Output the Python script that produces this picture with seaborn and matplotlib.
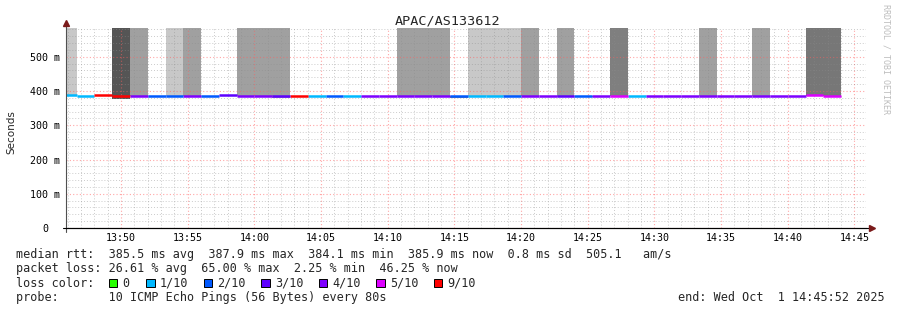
import numpy as np
import pandas as pd
import matplotlib
matplotlib.use("Agg")
import matplotlib.pyplot as plt
import seaborn as sns
from matplotlib.patches import Rectangle
from matplotlib.ticker import MultipleLocator, FixedLocator, FixedFormatter

# ---------------- data ----------------
title = "APAC/AS133612"
window_start = "13:45:52"
window_end = "14:45:52"
first_step_end = "13:46:40"
step_seconds = 80

# loss per probe round (tenths of 10 pings lost)
loss = [1, 1, 9, 9, 4, 2, 2, 4, 2, 3, 4, 4, 3, 9, 1, 2, 1, 4, 4, 4, 4, 4,
        2, 1, 1, 2, 4, 4, 3, 2, 4, 5, 1, 4, 4, 4, 4, 4, 4, 4, 4, 4, 5, 5]
# median rtt per round (ms)
median_ms = [387, 386, 389.5, 386.5, 386, 386, 386, 386, 386, 388, 386, 386,
             384, 386.5, 386, 386, 386, 386, 386, 386, 386, 386, 385, 386,
             386, 386, 386, 386, 384, 386, 385, 386, 386, 386, 386, 386, 386,
             386, 386, 386, 386, 386, 388.5, 386.5]
# smoke (spread of individual pings) per round: low / high rtt (ms) and shade
smoke_lo = [385, np.nan, np.nan, 376, 385, np.nan, 385, 385, np.nan, np.nan, 385, 385,
            381, np.nan, np.nan, np.nan, np.nan, np.nan, np.nan, 385, 385, 385, 381, 385,
            385, 385, 385, np.nan, 382, np.nan, 382, 385, np.nan, np.nan, np.nan, np.nan, 385,
            np.nan, np.nan, 385, np.nan, np.nan, 385, 385]
smoke_hi = [600, np.nan, np.nan, 600, 600, np.nan, 600, 600, np.nan, np.nan, 600, 600,
            600, np.nan, np.nan, np.nan, np.nan, np.nan, np.nan, 600, 600, 600, 385, 600,
            600, 600, 600, np.nan, 600, np.nan, 385, 600, np.nan, np.nan, np.nan, np.nan, 600,
            np.nan, np.nan, 600, np.nan, np.nan, 600, 600]
smoke_shade = ["#c8c8c8", "", "", "#555555", "#a0a0a0", "", "#c8c8c8", "#a0a0a0", "", "",
               "#a0a0a0", "#a0a0a0", "#a0a0a0", "", "", "", "", "", "", "#a0a0a0", "#a0a0a0",
               "#a0a0a0", "#8a8a8a", "#c8c8c8", "#c8c8c8", "#c8c8c8", "#a0a0a0", "", "#a0a0a0",
               "", "#8a8a8a", "#7f7f7f", "", "", "", "", "#a0a0a0", "", "", "#a0a0a0", "", "",
               "#777777", "#777777"]

loss_labels = ["0", "1/10", "2/10", "3/10", "4/10", "5/10", "9/10"]
loss_values = [0, 1, 2, 3, 4, 5, 9]
loss_colors = ["#26ff00", "#00b8ff", "#0059ff", "#5e00ff", "#7e00ff", "#dd00ff", "#ff0000"]

y_ticks = [0, 100, 200, 300, 400, 500]
y_tick_labels = ["0", "100 m", "200 m", "300 m", "400 m", "500 m"]
x_tick_labels = ["13:50", "13:55", "14:00", "14:05", "14:10", "14:15",
                 "14:20", "14:25", "14:30", "14:35", "14:40", "14:45"]

stats_lines = [
    "median rtt:  385.5 ms avg  387.9 ms max  384.1 ms min  385.9 ms now  0.8 ms sd  505.1   am/s",
    "packet loss: 26.61 % avg  65.00 % max  2.25 % min  46.25 % now",
]
probe_line = "probe:       10 ICMP Echo Pings (56 Bytes) every 80s"
end_line = "end: Wed Oct  1 14:45:52 2025"
watermark = "RRDTOOL / TOBI OETIKER"


def to_min(s):
    h, m, sec = [int(v) for v in s.split(":")]
    return h * 60 + m + sec / 60.0


# ---------------- figure ----------------
W, H = 897, 310
sns.set_theme(style="white")
plt.rcParams["font.family"] = ["DejaVu Sans Mono", "DejaVu Sans"]

fig = plt.figure(figsize=(W / 100, H / 100), dpi=100)
fig.patch.set_facecolor("white")
ax = fig.add_axes([66 / W, 1 - 228 / H, 800 / W, 200 / H])
ax.set_facecolor("white")

step = step_seconds / 60.0
ends = to_min(first_step_end) + step * np.arange(len(loss))
starts = ends - step

# smoke
for s, lo, hi, c in zip(starts, smoke_lo, smoke_hi, smoke_shade):
    if c and not np.isnan(lo):
        ax.bar(s, hi - lo, bottom=lo, width=step, align="edge", color=c,
               linewidth=0, zorder=1)

# median lines coloured by loss
lab_of = dict(zip(loss_values, loss_labels))
rows = []
for i, (s, e, m, l) in enumerate(zip(starts, ends, median_ms, loss)):
    rows.append({"t": s, "ms": m, "loss": lab_of[l], "step": i})
    rows.append({"t": e, "ms": m, "loss": lab_of[l], "step": i})
df = pd.DataFrame(rows)
sns.lineplot(data=df, x="t", y="ms", hue="loss", units="step", estimator=None,
             palette=dict(zip(loss_labels, loss_colors)), legend=False, ax=ax,
             linewidth=1.8, solid_capstyle="butt", zorder=3)

# axes
x0, x1 = to_min(window_start), to_min(window_end)
ax.set_xlim(x0, x1)
ax.set_ylim(0, 584)
ax.set_xlabel("")
ax.set_ylabel("")

major_x = [to_min(t + ":00") for t in x_tick_labels]
ax.xaxis.set_major_locator(FixedLocator(major_x))
ax.xaxis.set_major_formatter(FixedFormatter(x_tick_labels))
ax.xaxis.set_minor_locator(MultipleLocator(1))
ax.yaxis.set_major_locator(FixedLocator(y_ticks))
ax.yaxis.set_major_formatter(FixedFormatter(y_tick_labels))
ax.yaxis.set_minor_locator(MultipleLocator(20))

ax.set_axisbelow(False)
ax.grid(which="minor", color="#8c8c8c", alpha=0.45, linestyle=(0, (1, 2)), linewidth=0.7)
ax.grid(which="major", color="#ff5f5f", alpha=0.55, linestyle=(0, (1, 2)), linewidth=0.8)

ax.tick_params(axis="x", which="major", length=0, pad=3.5, labelsize=7.2, colors="black")
ax.tick_params(axis="y", which="major", length=0, pad=15, labelsize=7.2, colors="black")
ax.tick_params(which="minor", length=0)
for lbl in ax.get_yticklabels():
    lbl.set_horizontalalignment("center")

for sp in ["top", "right"]:
    ax.spines[sp].set_visible(False)
ax.spines["left"].set_color("#505050")
ax.spines["left"].set_linewidth(0.8)
ax.spines["bottom"].set_color("black")
ax.spines["bottom"].set_linewidth(0.8)
ax.spines["left"].set_zorder(4)
ax.spines["bottom"].set_zorder(4)

# axis extensions and arrows
arrow_c = "#7a1a1a"
ax.plot([0, 0], [1, 1 + 5 / 200], transform=ax.transAxes, clip_on=False,
        color="#505050", lw=0.8)
ax.plot([0, 0], [0, -4 / 200], transform=ax.transAxes, clip_on=False,
        color="#505050", lw=0.8)
ax.plot([-3 / 800, 1 + 5 / 800], [0, 0], transform=ax.transAxes, clip_on=False,
        color="black", lw=0.8)
ax.plot([0], [1 + 5 / 200], marker="^", markersize=4.5, color=arrow_c,
        transform=ax.transAxes, clip_on=False, zorder=5)
ax.plot([1 + 6 / 800], [0], marker=">", markersize=4.5, color=arrow_c,
        transform=ax.transAxes, clip_on=False, zorder=5)


def ftext(x, y, s, **kw):
    return fig.text(x / W, 1 - y / H, s, **kw)


ftext(448, 24, title, ha="center", va="baseline", fontsize=9.7)
ftext(11, 132, "Seconds", ha="center", va="center", rotation=90, fontsize=7.5,
      family="DejaVu Sans")
ftext(886, 4, watermark, ha="center", va="top", rotation=270, fontsize=6,
      color="#bdbdbd")

ftext(16, 258, stats_lines[0], ha="left", va="baseline", fontsize=8.5)
ftext(16, 272, stats_lines[1], ha="left", va="baseline", fontsize=8.5)
ftext(16, 287, "loss color:", ha="left", va="baseline", fontsize=8.5)
box_x = [108.5, 146, 203.5, 261, 318.5, 376, 433.5]
lab_x = [122, 160, 217.5, 275, 332.5, 390, 447.5]
for bx, lx, lab, col in zip(box_x, lab_x, loss_labels, loss_colors):
    fig.add_artist(Rectangle((bx / W, 1 - 287 / H), 8.5 / W, 8.5 / H,
                             transform=fig.transFigure, facecolor=col,
                             edgecolor="black", linewidth=0.7))
    ftext(lx, 287, lab, ha="left", va="baseline", fontsize=8.5)
ftext(16, 301, probe_line, ha="left", va="baseline", fontsize=8.5)
ftext(678, 301, end_line, ha="left", va="baseline", fontsize=8.5)

fig.savefig("out.png", dpi=100, facecolor="white")
